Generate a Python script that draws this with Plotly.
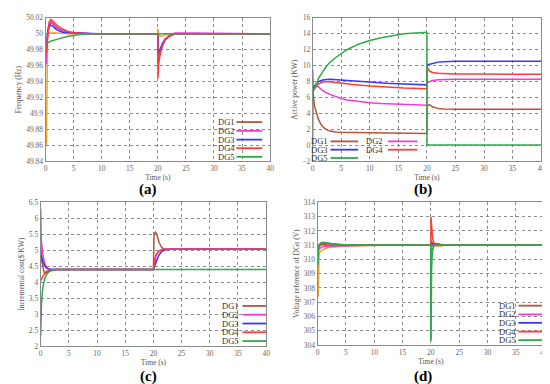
import plotly.graph_objects as go

W, H = 550, 384

# ---------------- data ----------------
X_TICKS = [0, 5, 10, 15, 20, 25, 30, 35, 40]
SERIES = ["DG1", "DG2", "DG3", "DG4", "DG5"]

# (a) Frequency (Hz)
A_T_EXTRA = [0.15, 0.17, 0.2, 0.25, 0.35, 0.6, 1.0, 2.0, 4.0, 20.0, 20.03, 20.15, 20.6, 21.2, 22.0, 40.0]
A_EXTRA = [49.86, 49.90, 49.95, 49.985, 49.998, 50.001, 50.001, 50.001, 50.0, 50.0, 50.006, 49.998, 49.997, 49.998, 50.0, 50.0]
A_T_DG1 = [0.1, 0.2, 0.4, 0.7, 1.0, 1.5, 2, 3, 4, 6, 8, 20, 20.03, 20.3, 20.7, 21.2, 22, 23, 40]
A_DG1 = [49.975, 49.99, 50.006, 50.014, 50.015, 50.012, 50.008, 50.004, 50.002, 50.001, 50.0, 50.0, 49.962, 49.972, 49.983, 49.992, 49.997, 50.0, 50.0]
A_T_DG2 = [0.1, 0.15, 0.3, 0.6, 1.0, 1.5, 2, 3, 4, 6, 8, 20, 20.03, 20.3, 20.7, 21.2, 22, 23, 26.5, 40]
A_DG2 = [49.962, 49.975, 49.995, 50.01, 50.014, 50.011, 50.007, 50.004, 50.002, 50.001, 50.0, 50.0, 49.970, 49.976, 49.985, 49.993, 49.998, 50.001, 50.001, 50.0]
A_T_DG3 = [0.1, 0.2, 0.4, 0.8, 1.2, 2, 3, 5, 10, 20, 20.03, 20.4, 20.9, 21.5, 22.3, 23.2, 40]
A_DG3 = [49.978, 49.99, 50.004, 50.011, 50.01, 50.005, 50.002, 50.001, 50.0, 50.0, 49.975, 49.981, 49.989, 49.994, 49.998, 50.0, 50.0]
A_T_DG4 = [0.1, 0.2, 0.35, 0.6, 0.9, 1.3, 2, 3, 4, 5, 7, 10, 20, 20.02, 20.15, 20.4, 20.8, 21.3, 22, 23, 40]
A_DG4 = [49.975, 49.985, 50.0, 50.014, 50.018, 50.016, 50.011, 50.006, 50.003, 50.001, 50.0, 50.0, 50.0, 49.944, 49.962, 49.975, 49.985, 49.992, 49.997, 50.0, 50.0]
A_T_DG5 = [0.2, 0.5, 1, 2, 3, 4, 5, 6, 8, 40]
A_DG5 = [49.988, 49.989, 49.991, 49.993, 49.995, 49.997, 49.998, 49.999, 50.0, 50.0]

# (b) Active power (KW)
B_T_DG1 = [0, 0.1, 0.3, 0.6, 1, 1.5, 2, 2.5, 3, 4, 5, 10, 15, 20, 20.02, 20.5, 21, 21.5, 22, 23, 25, 40]
B_DG1 = [9.5, 6.5, 5.0, 4.3, 3.3, 2.6, 2.2, 1.95, 1.8, 1.7, 1.65, 1.6, 1.55, 1.5, 5.0, 5.1, 4.85, 4.7, 4.62, 4.57, 4.55, 4.55]
B_T_DG2 = [0, 0.3, 0.6, 1, 1.5, 2, 3, 4, 5, 6, 8, 10, 12, 15, 20, 20.02, 20.5, 21, 22, 23, 25, 40]
B_DG2 = [7.2, 7.5, 7.5, 7.35, 7.05, 6.75, 6.4, 6.1, 5.9, 5.7, 5.5, 5.35, 5.25, 5.15, 5.05, 7.9, 8.05, 8.15, 8.25, 8.28, 8.3, 8.3]
B_T_DG3 = [0, 0.3, 0.7, 1, 1.5, 2, 3, 4, 5, 7, 10, 13, 16, 20, 20.02, 21, 22, 23, 24, 25, 30, 40]
B_DG3 = [7.2, 7.4, 7.8, 8.0, 8.15, 8.25, 8.3, 8.25, 8.2, 8.05, 7.9, 7.8, 7.7, 7.6, 10.1, 10.3, 10.45, 10.5, 10.52, 10.55, 10.55, 10.55]
B_T_DG4 = [0, 0.3, 0.7, 1, 1.5, 2, 3, 4, 5, 7, 10, 13, 16, 20, 20.02, 20.5, 21, 22, 23, 25, 30, 40]
B_DG4 = [6.8, 7.1, 7.5, 7.7, 7.9, 8.0, 8.0, 7.9, 7.8, 7.65, 7.45, 7.3, 7.2, 7.1, 9.8, 9.3, 9.15, 9.05, 9.0, 8.97, 8.95, 8.93]
B_T_DG5 = [0, 0.05, 0.3, 0.6, 1, 1.5, 2, 2.5, 3, 4, 5, 6, 8, 10, 12, 14, 16, 18, 20, 20.02, 40]
B_DG5 = [0, 6.5, 7.3, 7.6, 8.4, 9.0, 9.5, 10.0, 10.4, 11.0, 11.5, 12.0, 12.7, 13.15, 13.5, 13.75, 14.0, 14.1, 14.2, 0.05, 0.05]

# (c) Incremental cost ($/KW)
C_T_DG1 = [0, 0.02, 0.1, 0.2, 0.4, 0.6, 0.9, 1.2, 1.6, 2, 2.5, 20, 20.02, 20.1, 20.35, 20.6, 21, 21.4, 21.8, 22.5, 40]
C_DG1 = [6.3, 5.6, 4.9, 4.65, 4.45, 4.32, 4.28, 4.3, 4.35, 4.38, 4.4, 4.4, 5.3, 5.5, 5.57, 5.5, 5.25, 5.1, 5.05, 5.03, 5.03]
C_T_DG2 = [0, 0.1, 0.3, 0.5, 0.8, 1.1, 1.5, 2, 20, 20.5, 21, 21.5, 22, 40]
C_DG2 = [5.45, 5.35, 5.0, 4.75, 4.55, 4.45, 4.4, 4.4, 4.4, 4.85, 4.97, 5.01, 5.03, 5.03]
C_T_DG3 = [0, 0.1, 0.3, 0.6, 1.0, 1.4, 2, 20, 20.3, 20.7, 21, 21.5, 22, 23, 40]
C_DG3 = [4.75, 4.85, 4.7, 4.55, 4.45, 4.41, 4.4, 4.4, 4.55, 4.75, 4.85, 4.97, 5.01, 5.03, 5.03]
C_T_DG4 = [0, 0.1, 0.3, 0.6, 1.0, 1.5, 2, 2.5, 20, 20.2, 20.5, 21, 21.5, 22, 40]
C_DG4 = [4.05, 4.07, 4.15, 4.25, 4.33, 4.38, 4.4, 4.4, 4.4, 4.7, 4.88, 4.98, 5.02, 5.03, 5.03]
C_T_DG5 = [0, 0.02, 0.15, 0.3, 0.5, 0.8, 1.2, 1.6, 2, 2.5, 3, 40]
C_DG5 = [2.3, 3.0, 3.35, 3.7, 3.95, 4.15, 4.28, 4.34, 4.37, 4.39, 4.4, 4.4]

# (d) Voltage reference of DGs (V)
D_T_EXTRA = [0.1, 0.15, 0.25, 0.4, 1, 2, 3, 5, 8, 12, 20, 20.05, 22, 22.1, 40]
D_EXTRA = [307.4, 308.5, 310.3, 310.55, 310.7, 310.85, 310.9, 310.95, 310.97, 311.0, 311.0, 310.95, 310.95, 311.0, 311.0]
D_T_DG1 = [0.05, 0.2, 0.5, 1, 2, 4, 8, 20, 20.05, 20.5, 21, 40]
D_DG1 = [310.8, 311.0, 311.05, 311.08, 311.03, 311.0, 311.0, 311.0, 311.3, 311.05, 311.0, 311.0]
D_T_DG2 = [0.05, 0.2, 0.6, 1, 2, 5, 8, 9, 40]
D_DG2 = [310.5, 310.7, 310.85, 310.9, 310.93, 310.95, 310.97, 311.0, 311.0]
D_T_DG3 = [0.05, 0.2, 0.5, 1, 2, 4, 7, 10, 20, 20.05, 21.5, 22, 40]
D_DG3 = [310.9, 311.0, 311.1, 311.15, 311.1, 311.05, 311.02, 311.0, 311.0, 311.1, 311.08, 311.0, 311.0]
D_T_DG4 = [0.05, 0.2, 0.5, 1, 3, 20, 20.02, 20.1, 20.3, 20.6, 21, 40]
D_DG4 = [310.6, 310.9, 311.0, 311.05, 311.0, 311.0, 313.0, 312.2, 311.5, 311.1, 311.0, 311.0]
D_T_DG5 = [0.05, 0.1, 0.3, 0.6, 1, 1.5, 2, 3, 5, 8, 20, 20.02, 20.1, 20.25, 20.5, 21, 40]
D_DG5 = [309.6, 310.5, 311.0, 311.15, 311.2, 311.15, 311.1, 311.05, 311.02, 311.0, 311.0, 304.3, 309.3, 310.6, 310.95, 311.0, 311.0]

# y-axis settings per panel (range, dtick)
Y_RANGES = {"a": [49.84, 50.02], "b": [-2, 16], "c": [2, 6.5], "d": [304, 314]}
Y_DTICKS = {"a": 0.02, "b": 2, "c": 0.5, "d": 1}
Y_TITLES = {"a": "Frequency (Hz)", "b": "Active power (KW)",
            "c": "Incremental cost($/KW)", "d": "Voltage reference of DGs (V)"}
PANEL_LABELS = ["(a)", "(b)", "(c)", "(d)"]

# ---------------- styling ----------------
COLORS = {"DG1": "#b4553c", "DG2": "#f03cd2", "DG3": "#3838f5", "DG4": "#ff3b3b", "DG5": "#2eaa4a"}
EXTRA_COLOR = "#f5a028"
SERIF = "Liberation Serif"

# plot areas in pixels (x0, x1, ytop, ybottom)
AREAS = {"a": (36, 263, 6, 153), "b": (306, 537, 6, 153),
         "c": (31, 259, 195, 342), "d": (311, 540, 195, 341)}
AXES = {"a": ("x", "y"), "b": ("x2", "y2"), "c": ("x3", "y3"), "d": ("x4", "y4")}

fig = go.Figure()


def add(panel, t, v, color, width=1.5):
    xa, ya = AXES[panel]
    fig.add_trace(go.Scatter(x=t, y=v, mode="lines", line=dict(color=color, width=width),
                             xaxis=xa, yaxis=ya, showlegend=False, hoverinfo="skip"))


add("a", A_T_EXTRA, A_EXTRA, EXTRA_COLOR)
add("a", A_T_DG1, A_DG1, COLORS["DG1"])
add("a", A_T_DG2, A_DG2, COLORS["DG2"])
add("a", A_T_DG3, A_DG3, COLORS["DG3"])
add("a", A_T_DG4, A_DG4, COLORS["DG4"])
add("a", A_T_DG5, A_DG5, COLORS["DG5"])

add("b", B_T_DG1, B_DG1, COLORS["DG1"])
add("b", B_T_DG2, B_DG2, COLORS["DG2"])
add("b", B_T_DG3, B_DG3, COLORS["DG3"])
add("b", B_T_DG4, B_DG4, COLORS["DG4"])
add("b", B_T_DG5, B_DG5, COLORS["DG5"])

add("c", C_T_DG1, C_DG1, COLORS["DG1"])
add("c", C_T_DG2, C_DG2, COLORS["DG2"])
add("c", C_T_DG3, C_DG3, COLORS["DG3"])
add("c", C_T_DG4, C_DG4, COLORS["DG4"])
add("c", C_T_DG5, C_DG5, COLORS["DG5"])

add("d", D_T_EXTRA, D_EXTRA, EXTRA_COLOR)
add("d", D_T_DG1, D_DG1, COLORS["DG1"])
add("d", D_T_DG2, D_DG2, COLORS["DG2"])
add("d", D_T_DG3, D_DG3, COLORS["DG3"])
add("d", D_T_DG4, D_DG4, COLORS["DG4"])
add("d", D_T_DG5, D_DG5, COLORS["DG5"], width=1.8)

tickfont = dict(family=SERIF, size=7.5, color="#666")
titlefont = dict(family=SERIF, size=7.5, color="#555")
axis_common = dict(showline=True, mirror=True, linecolor="#8a8a8a", linewidth=1,
                   showgrid=True, gridcolor="#8c8c8c", gridwidth=1, griddash="dot",
                   zeroline=False, ticks="", tickfont=tickfont, fixedrange=True)

layout = {}
for p, (xa, ya) in AXES.items():
    x0, x1, yt, yb = AREAS[p]
    xkey = "xaxis" + xa[1:]
    ykey = "yaxis" + ya[1:]
    layout[xkey] = dict(axis_common, domain=[x0 / W, x1 / W], anchor=ya, range=[0, 40],
                        tickvals=X_TICKS, title=dict(text="Time (s)", font=titlefont, standoff=1))
    r = Y_RANGES[p]
    layout[ykey] = dict(axis_common, domain=[1 - yb / H, 1 - yt / H], anchor=xa, range=r,
                        tick0=r[0], dtick=Y_DTICKS[p],
                        title=dict(text=Y_TITLES[p], font=titlefont, standoff=3))

fig.update_layout(width=W, height=H, margin=dict(l=0, r=0, t=0, b=0),
                  paper_bgcolor="white", plot_bgcolor="white", **layout)

# panel labels
label_pos = [(140, 182), (418, 182), (140, 373), (418, 373)]
for txt, (px, py) in zip(PANEL_LABELS, label_pos):
    fig.add_annotation(x=px / W, y=1 - py / H, xref="paper", yref="paper", text="<b>%s</b>" % txt,
                       xanchor="center", yanchor="middle", showarrow=False,
                       font=dict(family=SERIF, size=15, color="black"))

# custom legends: text followed by a line sample
legend_items = {
    "a": [("DG1", 228, 229, 255, 112.7), ("DG2", 228, 229, 255, 121.7), ("DG3", 228, 229, 255, 130.7),
          ("DG4", 228, 229, 255, 139.5), ("DG5", 228, 229, 255, 148.3)],
    "b": [("DG1", 323, 324, 352, 132.5), ("DG2", 378, 382, 412, 132.5),
          ("DG3", 323, 324, 352, 141.0), ("DG4", 378, 382, 412, 141.0),
          ("DG5", 323, 324, 352, 149.5)],
    "c": [("DG1", 233, 235, 259, 301), ("DG2", 233, 235, 259, 310), ("DG3", 233, 235, 259, 319),
          ("DG4", 233, 235, 259, 328), ("DG5", 233, 235, 259, 337)],
    "d": [("DG1", 513, 514, 539, 300.7), ("DG2", 513, 514, 539, 309.7), ("DG3", 513, 514, 539, 318.3),
          ("DG4", 513, 514, 539, 327.3), ("DG5", 513, 514, 539, 336)],
}
for p, items in legend_items.items():
    for name, tx, lx0, lx1, py in items:
        fig.add_annotation(x=tx / W, y=1 - py / H, xref="paper", yref="paper", text=name,
                           xanchor="right", yanchor="middle", showarrow=False, borderpad=0,
                           font=dict(family=SERIF, size=8.5, color="#333"))
        fig.add_shape(type="line", xref="paper", yref="paper", x0=lx0 / W, x1=lx1 / W,
                      y0=1 - py / H, y1=1 - py / H, line=dict(color=COLORS[name], width=1.8))

fig.write_html("out.html", config={"displayModeBar": False})
